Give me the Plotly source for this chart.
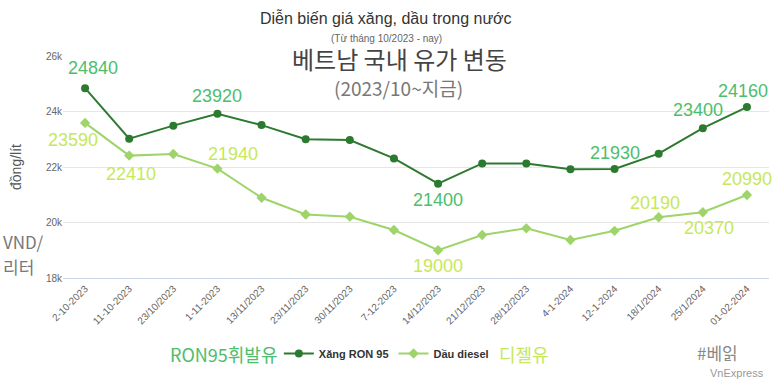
import plotly.graph_objects as go

dates = ["2-10-2023", "11-10-2023", "23/10/2023", "1-11-2023", "13/11/2023", "23/11/2023",
         "30/11/2023", "7-12-2023", "14/12/2023", "21/12/2023", "28/12/2023", "4-1-2024",
         "12-1-2024", "18/1/2024", "25/1/2024", "01-02-2024"]
ron95 = [24840, 23020, 23490, 23920, 23510, 23000, 22970, 22310, 21400, 22130, 22130,
         21920, 21930, 22480, 23400, 24160]
diesel = [23590, 22410, 22470, 21940, 20890, 20290, 20210, 19730, 19000, 19550, 19790,
          19370, 19700, 20190, 20370, 20990]
y_ticks = [18000, 20000, 22000, 24000, 26000]
y_tick_text = ["18k", "20k", "22k", "24k", "26k"]

# labelled points: (index, xshift, yshift)
ron_labels = [(0, 8, 20), (3, 0, 18), (8, 0, -16), (12, 0, 16), (14, -5, 18), (15, -4, 16)]
diesel_labels = [(0, -12, -17), (1, 2, -18), (3, 16, 15), (8, 0, -16), (13, -4, 14),
                 (14, 6, -16), (15, 0, 16)]

RON_LINE = "#2c7a30"
RON_TXT = "#4cbe6c"
DSL_LINE = "#9ed46a"
DSL_TXT = "#c6e85a"

fig = go.Figure()
fig.add_trace(go.Scatter(x=dates, y=ron95, mode="lines+markers", name="Xăng RON 95",
                         line=dict(color=RON_LINE, width=2),
                         marker=dict(symbol="circle", size=8, color=RON_LINE)))
fig.add_trace(go.Scatter(x=dates, y=diesel, mode="lines+markers", name="Dầu diesel",
                         line=dict(color=DSL_LINE, width=2),
                         marker=dict(symbol="diamond", size=8, color=DSL_LINE)))

ann = []
for i, dx, dy in ron_labels:
    ann.append(dict(x=dates[i], y=ron95[i], xref="x", yref="y", text=str(ron95[i]),
                    showarrow=False, xshift=dx, yshift=dy,
                    font=dict(family="Liberation Sans", size=18, color=RON_TXT)))
for i, dx, dy in diesel_labels:
    ann.append(dict(x=dates[i], y=diesel[i], xref="x", yref="y", text=str(diesel[i]),
                    showarrow=False, xshift=dx, yshift=dy,
                    font=dict(family="Liberation Sans", size=18, color=DSL_TXT)))

L, R, T, B = 63, 4, 56, 105
W, H = 773 - L - R, 383 - T - B

fig.update_layout(
    width=773, height=383,
    margin=dict(l=L, r=R, t=T, b=B, autoexpand=False),
    paper_bgcolor="white", plot_bgcolor="white",
    showlegend=True,
    legend=dict(orientation="h", x=0.458, y=-0.34, xanchor="center", yanchor="middle",
                font=dict(family="Liberation Sans", size=11, color="#333333", weight="bold"),
                itemwidth=30, tracegroupgap=0),
    xaxis=dict(type="category", tickangle=-45, showgrid=False,
               tickfont=dict(family="Liberation Sans", size=10, color="#666666"),
               showline=True, linecolor="#ccd6eb", ticks="", range=[-0.5, 15.5]),
    yaxis=dict(range=[18000, 26000], tickvals=y_ticks, ticktext=y_tick_text,
               gridcolor="#e6e6e6", zeroline=False, showline=False,
               tickfont=dict(family="Liberation Sans", size=10, color="#666666"),
               title=dict(text="đồng/lít", font=dict(family="Liberation Sans", size=14,
                                                        color="#555555"), standoff=20)),
)

def pp(text, px, py, size, color, xanchor="center",
       family="Noto Sans CJK KR, Liberation Sans"):
    ann.append(dict(text=text, x=(px - L) / W, y=(383 - B - py) / H, xref="paper",
                    yref="paper", showarrow=False, xanchor=xanchor, yanchor="middle",
                    font=dict(family=family, size=size, color=color)))

pp("Diễn biến giá xăng, dầu trong nước", 386, 18, 16, "#333333", family="Liberation Sans")
pp("(Từ tháng 10/2023 - nay)", 386, 39, 10, "#666666", family="Liberation Sans")
pp("베트남 국내 유가 변동", 399, 58, 24, "#444444")
pp("(2023/10~지금)", 398, 87, 19, "#777777")
pp("VND/", 1, 241, 17, "#777777", xanchor="left")
pp("리터", 1, 266, 17, "#777777", xanchor="left")
pp("RON95휘발유", 223, 354, 18, RON_TXT)
pp("디젤유", 524, 354, 18, DSL_TXT)
pp("#베읽", 717, 352, 17, "#888888")
pp("VnExpress", 737, 373, 11, "#999999", family="Liberation Sans")

fig.update_layout(annotations=ann)
fig.write_html("out.html", config={"displayModeBar": False},
               post_script="document.body.style.margin='0';")
